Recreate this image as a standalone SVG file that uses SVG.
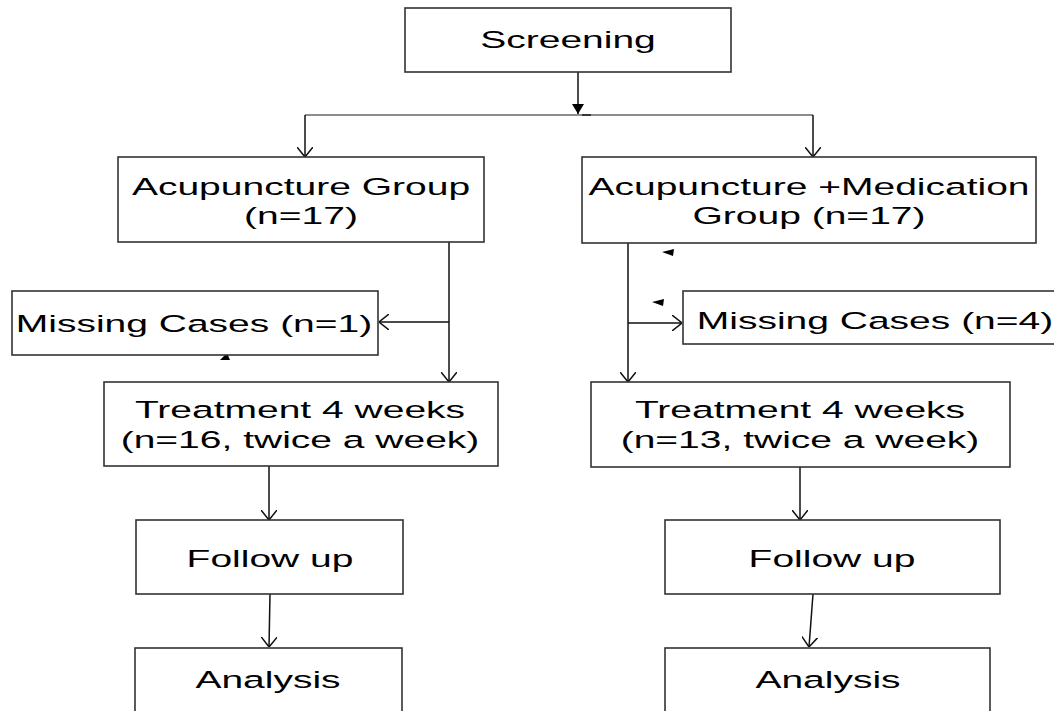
<svg xmlns="http://www.w3.org/2000/svg" width="1054" height="711" viewBox="0 0 1054 711">
<style>
.box{fill:#fff;stroke:#333;stroke-width:1.6}
.t{font-family:"Liberation Sans",Arial,sans-serif;font-size:23.5px;fill:#000;text-anchor:middle}
.c{fill:none;stroke:#111;stroke-width:1.5}
.g{fill:none;stroke:#666;stroke-width:1.6}
.tri{fill:#000;stroke:none}
</style>
<defs>
<marker id="open" viewBox="0 0 10 16" refX="10" refY="8" markerWidth="10" markerHeight="16" markerUnits="userSpaceOnUse" orient="auto">
<path d="M0,0 L10,8 L0,16" fill="none" stroke="#111" stroke-width="1.5"/>
</marker>
<marker id="solid" viewBox="0 0 10 12" refX="10" refY="6" markerWidth="10" markerHeight="12" markerUnits="userSpaceOnUse" orient="auto">
<path d="M0,0 L10,6 L0,12 z" fill="#000"/>
</marker>
</defs>
<rect width="1054" height="711" fill="#fff"/>
<g id="connectors">
<line class="c" x1="578" y1="72" x2="578" y2="114" marker-end="url(#solid)"/>
<line class="g" x1="305" y1="115" x2="813" y2="115"/>
<line x1="582" y1="115" x2="591" y2="115" stroke="#222" stroke-width="1.6"/>
<line class="c" x1="305" y1="115" x2="305" y2="157" marker-end="url(#open)"/>
<line class="c" x1="813" y1="115" x2="813" y2="157" marker-end="url(#open)"/>
<line class="c" x1="449" y1="242" x2="449" y2="382" marker-end="url(#open)"/>
<line class="c" x1="449" y1="322" x2="379" y2="322" marker-end="url(#open)"/>
<line class="c" x1="628" y1="243" x2="628" y2="382" marker-end="url(#open)"/>
<line class="c" x1="628" y1="323" x2="682" y2="323" marker-end="url(#open)"/>
<line class="c" x1="269" y1="466" x2="269" y2="520" marker-end="url(#open)"/>
<line class="c" x1="800" y1="467" x2="800" y2="520" marker-end="url(#open)"/>
<line class="c" x1="270" y1="594" x2="269" y2="647" marker-end="url(#open)"/>
<line class="c" x1="813" y1="594" x2="809" y2="647" marker-end="url(#open)"/>
<polygon class="tri" points="220,360 230,360 227,353"/>
<polygon class="tri" points="662,252 674,249 673,256"/>
<polygon class="tri" points="652,302 664,299 663,306"/>
</g>
<g id="screening">
<rect class="box" x="405" y="8" width="326" height="64"/>
<text class="t" transform="translate(568,48) scale(1.66,1)">Screening</text>
</g>
<g id="acu-group">
<rect class="box" x="118" y="157" width="366" height="85"/>
<text class="t" transform="translate(301,195) scale(1.66,1)">Acupuncture Group</text>
<text class="t" transform="translate(301,224) scale(1.66,1)">(n=17)</text>
</g>
<g id="acu-med-group">
<rect class="box" x="582" y="157" width="454" height="86"/>
<text class="t" transform="translate(809,195) scale(1.66,1)">Acupuncture +Medication</text>
<text class="t" transform="translate(809,224) scale(1.66,1)">Group (n=17)</text>
</g>
<g id="missing-1">
<rect class="box" x="12" y="291" width="366" height="64"/>
<text class="t" transform="translate(194,332) scale(1.66,1)">Missing Cases (n=1)</text>
</g>
<g id="missing-4">
<rect class="box" x="683" y="291" width="380" height="53"/>
<text class="t" transform="translate(875,329) scale(1.66,1)">Missing Cases (n=4)</text>
</g>
<g id="treat-left">
<rect class="box" x="104" y="382" width="394" height="84"/>
<text class="t" transform="translate(300,418) scale(1.66,1)">Treatment 4 weeks</text>
<text class="t" transform="translate(300,448) scale(1.66,1)">(n=16, twice a week)</text>
</g>
<g id="treat-right">
<rect class="box" x="591" y="382" width="419" height="85"/>
<text class="t" transform="translate(800,418) scale(1.66,1)">Treatment 4 weeks</text>
<text class="t" transform="translate(800,448) scale(1.66,1)">(n=13, twice a week)</text>
</g>
<g id="follow-left">
<rect class="box" x="136" y="520" width="267" height="74"/>
<text class="t" transform="translate(270,567) scale(1.66,1)">Follow up</text>
</g>
<g id="follow-right">
<rect class="box" x="665" y="520" width="335" height="74"/>
<text class="t" transform="translate(832,567) scale(1.66,1)">Follow up</text>
</g>
<g id="analysis-left">
<rect class="box" x="135" y="648" width="267" height="80"/>
<text class="t" transform="translate(268,688) scale(1.66,1)">Analysis</text>
</g>
<g id="analysis-right">
<rect class="box" x="665" y="648" width="325" height="80"/>
<text class="t" transform="translate(828,688) scale(1.66,1)">Analysis</text>
</g>
</svg>
